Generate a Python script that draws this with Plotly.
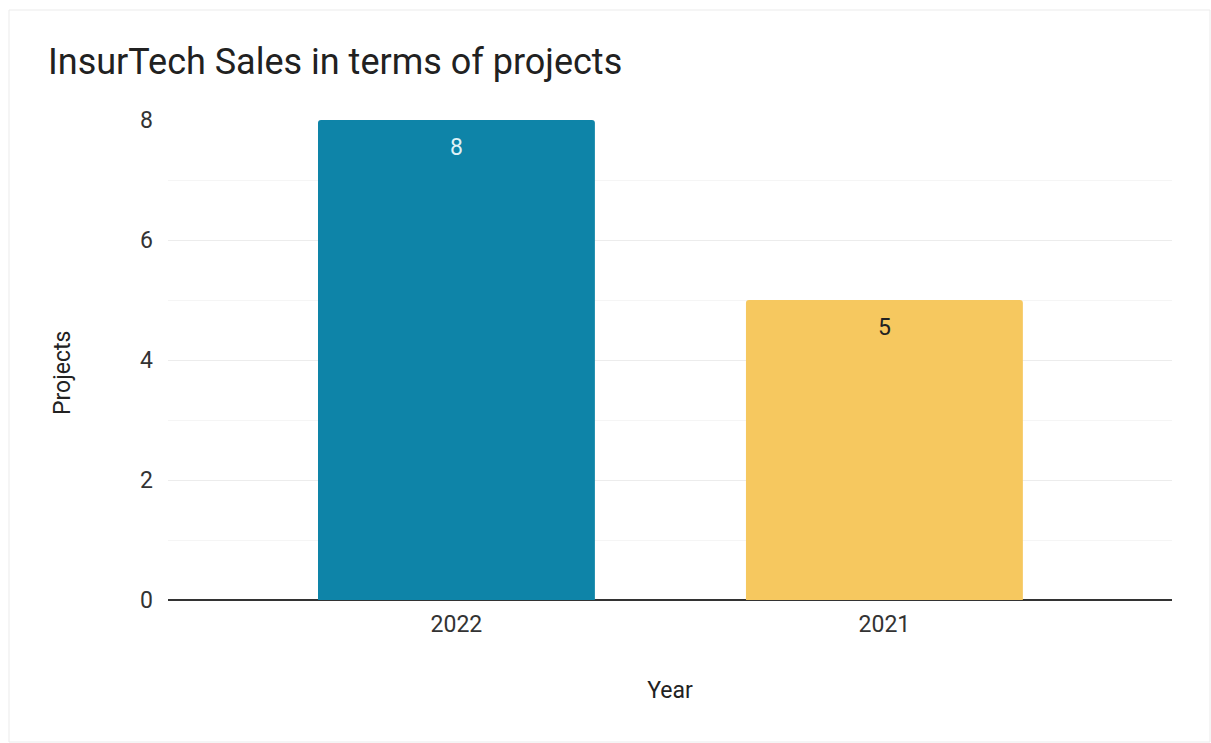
import plotly.graph_objects as go

# Chart data
years = ["2022", "2021"]
projects = [8, 5]
bar_colors = ["#0e84a8", "#f6c85f"]
label_colors = ["#dff1f6", "#222222"]
y_ticks = [0, 2, 4, 6, 8]

fig = go.Figure()
fig.add_trace(go.Bar(
    x=years,
    y=projects,
    marker=dict(color=bar_colors, line=dict(width=0), cornerradius=3),
    hoverinfo="x+y",
))

# Value labels just inside the top of each bar (category positions by index)
for i, (val, col) in enumerate(zip(projects, label_colors)):
    fig.add_annotation(
        x=i, y=val, xref="x", yref="y",
        text=str(val), showarrow=False,
        yanchor="middle", yshift=-27,
        font=dict(family="Roboto", size=23, color=col),
    )

# Vertical axis title, placed slightly below the plot's mid-height
fig.add_annotation(
    x=-105 / 1004, y=0.473, xref="paper", yref="paper",
    text="Projects", textangle=-90, showarrow=False,
    xanchor="center", yanchor="middle",
    font=dict(family="Roboto", size=23, color="#222222"),
)

fig.update_layout(
    width=1211,
    height=743,
    margin=dict(l=168, r=39, t=120, b=143),
    paper_bgcolor="white",
    plot_bgcolor="white",
    bargap=0.353,
    showlegend=False,
    font=dict(family="Roboto", color="#222222"),
    title=dict(
        text="InsurTech Sales in terms of projects",
        x=48 / 1211, xref="container", xanchor="left",
        y=1 - 61 / 743, yref="container", yanchor="middle",
        font=dict(family="Roboto", size=36, color="#212121"),
    ),
    xaxis=dict(
        type="category",
        title=dict(text="Year", font=dict(size=23, color="#222222"), standoff=44),
        tickfont=dict(size=23, color="#333333"),
        range=[-0.674, 1.672],
        showgrid=False,
        showline=False,
        ticks="",
        ticklabelstandoff=8,
    ),
    yaxis=dict(
        range=[0, 8],
        tickvals=y_ticks,
        ticktext=[str(v) for v in y_ticks],
        tickfont=dict(size=23, color="#333333"),
        showgrid=True,
        gridcolor="#ececec",
        gridwidth=1,
        minor=dict(dtick=1, showgrid=True, gridcolor="#f5f5f5", gridwidth=1),
        zeroline=True,
        zerolinecolor="#333333",
        zerolinewidth=1.5,
        ticks="",
        ticklabelstandoff=14,
    ),
    shapes=[
        dict(type="rect", xref="paper", yref="paper",
             x0=-159 / 1004, x1=1 + 38 / 1004, y0=-142 / 480, y1=1 + 110 / 480,
             line=dict(color="#ebebeb", width=1), fillcolor="rgba(0,0,0,0)",
             layer="below"),
    ],
)

fig.write_html("out.html")
